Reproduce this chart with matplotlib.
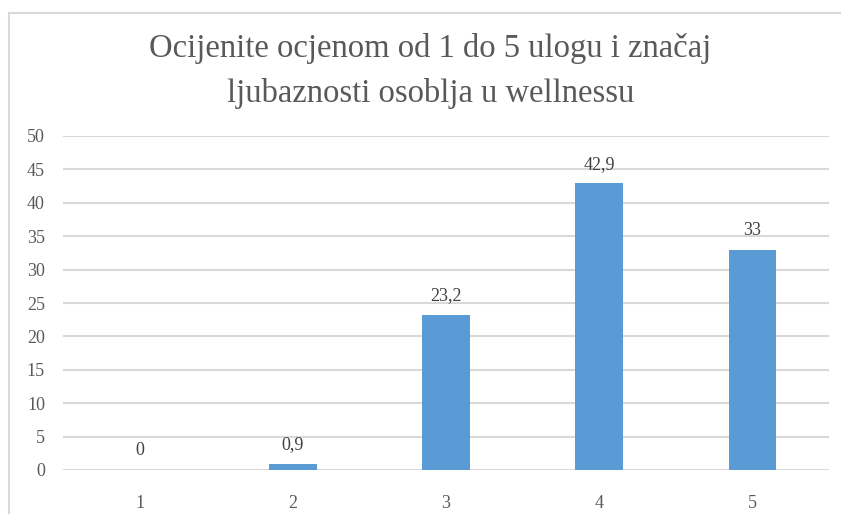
import matplotlib
matplotlib.use("Agg")
import matplotlib.pyplot as plt
from matplotlib.patches import Rectangle

categories = ["1", "2", "3", "4", "5"]
values = [0, 0.9, 23.2, 42.9, 33]
labels = ["0", "0,9", "23,2", "42,9", "33"]
y_ticks = [0, 5, 10, 15, 20, 25, 30, 35, 40, 45, 50]

plt.rcParams["font.family"] = ["Liberation Serif", "DejaVu Serif"]

fig = plt.figure(figsize=(8.41, 5.14), dpi=100)
ax = fig.add_axes([63 / 841, 1 - 470 / 514, 766 / 841, 334 / 514])

x = range(len(categories))
bars = ax.bar(x, values, width=0.31, color="#5B9BD5", zorder=3)
for b, lab in zip(bars, labels):
    ax.text(b.get_x() + b.get_width() / 2, b.get_height() + 1.6, lab,
            ha="center", va="bottom", fontsize=13, color="#404040")

ax.set_xlim(-0.5, len(categories) - 0.5)
ax.set_ylim(0, 50)
ax.set_yticks(y_ticks)
ax.set_xticks(list(x))
ax.set_xticklabels(categories)
ax.tick_params(axis="both", length=0, labelsize=13, colors="#595959")
ax.tick_params(axis="y", pad=13)
ax.tick_params(axis="x", pad=18)
ax.yaxis.grid(True, color="#D9D9D9", linewidth=1.5, zorder=0)
for s in ax.spines.values():
    s.set_visible(False)

fig.text(0.512, 1 - 71 / 514,
         "Ocijenite ocjenom od 1 do 5 ulogu i značaj\nljubaznosti osoblja u wellnessu",
         ha="center", va="center", fontsize=23.5, color="#595959", linespacing=1.55)

fig.patches.append(Rectangle((9 / 841, -0.1), 1.2, 1 - 13 / 514 + 0.1,
                             transform=fig.transFigure, fill=False,
                             edgecolor="#D9D9D9", linewidth=1.5))

fig.savefig("out.png", dpi=100)
